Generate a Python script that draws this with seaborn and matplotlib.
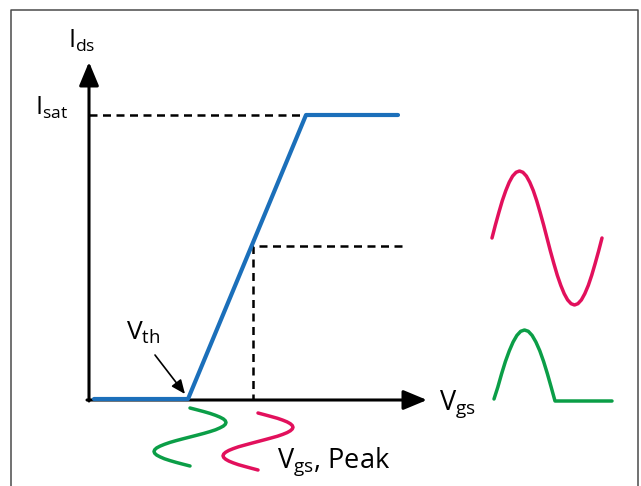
import numpy as np
import pandas as pd
import seaborn as sns
import matplotlib.pyplot as plt

# Canvas coordinates (pixels, y downwards)
# Transfer characteristic I_ds(V_gs)
transfer_x = [94, 188, 306, 398]
transfer_y = [399, 399, 115, 115]

# Axes (origin, tips)
yaxis_x, yaxis_bottom, yaxis_tip = 89, 401, 62
xaxis_y, xaxis_left, xaxis_tip = 400, 87, 427

# Dashed guide lines
isat_x = [89, 305]
isat_y = [115, 115]
op_x = [402, 253, 253]
op_y = [246, 246, 400]

# Input sine drawn below the V_gs axis (vertical, time running downwards)
red_in_y = [413, 414.8, 416.6, 418.3, 420.1, 421.9, 423.7, 425.5, 427.3, 429, 430.8,
            432.6, 434.4, 436.2, 437.9, 439.7, 441.5, 443.3, 445.1, 446.8, 448.6, 450.4,
            452.2, 454, 455.8, 457.5, 459.3, 461.1, 462.9, 464.7, 466.4, 468.2, 470]
red_in_x = [258, 264.8, 271.4, 277.5, 282.7, 287.1, 290.3, 292.3, 293, 292.3, 290.3,
            287.1, 282.7, 277.5, 271.4, 264.8, 258, 251.2, 244.6, 238.5, 233.3, 228.9,
            225.7, 223.7, 223, 223.7, 225.7, 228.9, 233.3, 238.5, 244.6, 251.2, 258]
green_in_y = [408, 409.8, 411.6, 413.4, 415.3, 417.1, 418.9, 420.7, 422.5, 424.3, 426.1,
              427.9, 429.8, 431.6, 433.4, 435.2, 437, 438.8, 440.6, 442.4, 444.3, 446.1,
              447.9, 449.7, 451.5, 453.3, 455.1, 456.9, 458.8, 460.6, 462.4, 464.2, 466]
green_in_x = [190, 197, 203.8, 210, 215.5, 219.9, 223.3, 225.3, 226, 225.3, 223.3,
              219.9, 215.5, 210, 203.8, 197, 190, 183, 176.2, 170, 164.5, 160.1,
              156.7, 154.7, 154, 154.7, 156.7, 160.1, 164.5, 170, 176.2, 183, 190]

# Output waveforms on the right
red_out_x = [492, 495.4, 498.9, 502.3, 505.8, 509.2, 512.6, 516.1, 519.5, 522.9, 526.4,
             529.8, 533.3, 536.7, 540.1, 543.6, 547, 550.4, 553.9, 557.3, 560.8, 564.2,
             567.6, 571.1, 574.5, 577.9, 581.4, 584.8, 588.3, 591.7, 595.1, 598.6, 602]
red_out_y = [238, 224.9, 212.3, 200.7, 190.6, 182.3, 176.1, 172.3, 171, 172.3, 176.1,
             182.3, 190.6, 200.7, 212.3, 224.9, 238, 251.1, 263.7, 275.3, 285.4, 293.7,
             299.9, 303.7, 305, 303.7, 299.9, 293.7, 285.4, 275.3, 263.7, 251.1, 238]
green_out_x = [494, 497.8, 501.6, 505.4, 509.3, 513.1, 516.9, 520.7, 524.5, 528.3,
               532.1, 535.9, 539.8, 543.6, 547.4, 551.2, 555, 612]
green_out_y = [399, 387.2, 373.8, 361.5, 350.8, 342, 335.4, 331.3, 330, 331.3,
               335.4, 342, 350.8, 361.5, 373.8, 387.2, 401, 401]

# Frame (left, top, right edges; no bottom edge)
frame_x = [11, 11, 638, 638]
frame_y = [486, 10, 10, 486]

BLUE = "#1b6fba"
RED = "#e2105c"
GREEN = "#0b9e47"

sns.set_theme(style="white")
plt.rcParams['font.family'] = ['Open Sans', 'DejaVu Sans']
plt.rcParams['mathtext.fontset'] = 'custom'
plt.rcParams['mathtext.rm'] = 'Open Sans'
plt.rcParams['text.color'] = 'black'

fig = plt.figure(figsize=(6.41, 4.86), dpi=100)
ax = fig.add_axes([0, 0, 1, 1])

# frame
ax.plot(frame_x, frame_y, color="#4a4a4a", lw=1.1, solid_capstyle="butt")

# dashed guides
ax.plot(isat_x, isat_y, color="black", lw=1.8, dashes=(3.2, 2.2))
ax.plot(op_x, op_y, color="black", lw=1.8, dashes=(3.2, 2.2))

# axes with arrow heads
arrow_kw = dict(arrowstyle="-|>,head_length=1.2,head_width=0.5",
                lw=2.2, color="black", shrinkA=0, shrinkB=0)
ax.annotate("", xy=(yaxis_x, yaxis_tip), xytext=(yaxis_x, yaxis_bottom),
            arrowprops=arrow_kw)
ax.annotate("", xy=(xaxis_tip, xaxis_y), xytext=(xaxis_left, xaxis_y),
            arrowprops=arrow_kw)

# curves
line_kw = dict(sort=False, estimator=None, ax=ax, legend=False)
sns.lineplot(x=transfer_x, y=transfer_y, color=BLUE, lw=3.0, zorder=5, **line_kw)
sns.lineplot(x=red_in_x, y=red_in_y, color=RED, lw=2.5, **line_kw)
sns.lineplot(x=green_in_x, y=green_in_y, color=GREEN, lw=2.5, **line_kw)
sns.lineplot(x=red_out_x, y=red_out_y, color=RED, lw=2.5, **line_kw)
sns.lineplot(x=green_out_x, y=green_out_y, color=GREEN, lw=2.5, **line_kw)
ax.set_xlim(0, 641)
ax.set_ylim(486, 0)
ax.axis("off")

# threshold arrow
ax.annotate("", xy=(185, 394), xytext=(155, 355),
            arrowprops=dict(arrowstyle="-|>,head_length=0.7,head_width=0.3",
                            lw=1.2, color="black", shrinkA=0, shrinkB=0))

# labels
lbl = dict(va="baseline", ha="left", color="black")
ax.text(68, 48, r"I$_\mathregular{ds}$", fontsize=18, **lbl)
ax.text(35, 115, r"I$_\mathregular{sat}$", fontsize=18, **lbl)
ax.text(126, 339, r"V$_\mathregular{th}$", fontsize=19, **lbl)
ax.text(439, 409, r"V$_\mathregular{gs}$", fontsize=19.5, **lbl)
ax.text(277, 467, r"V$_\mathregular{gs}$, Peak", fontsize=19.5, **lbl)

plt.savefig("out.png", dpi=100)
